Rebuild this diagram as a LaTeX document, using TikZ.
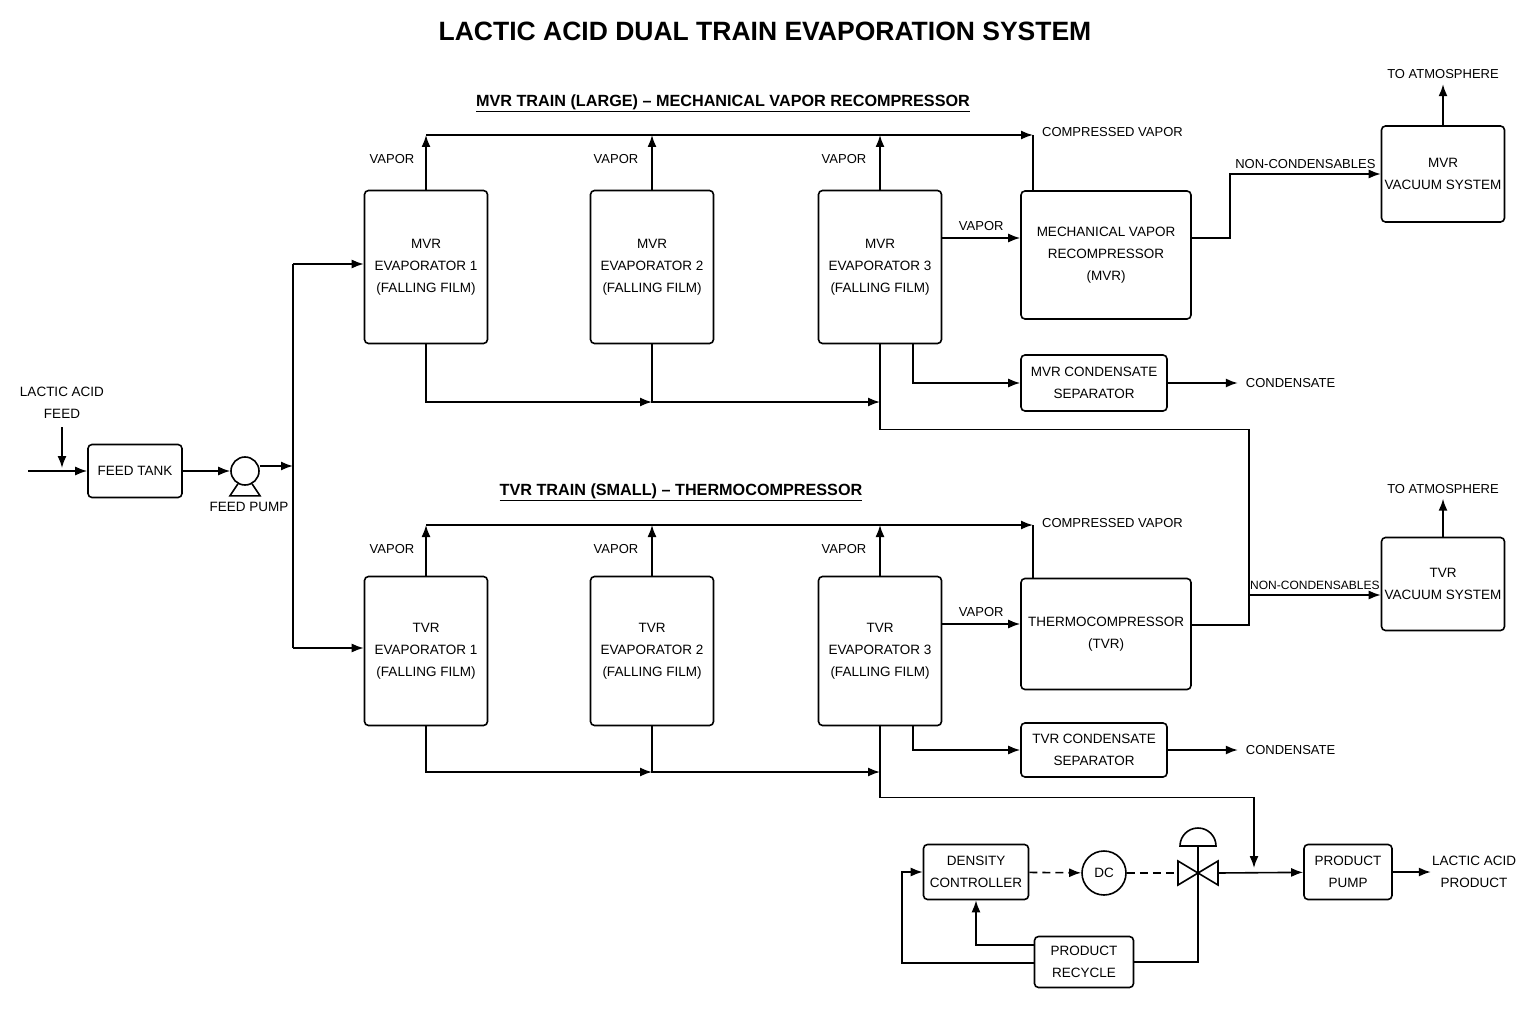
\documentclass[tikz,border=0pt]{standalone}
\usepackage{fontspec}
\setmainfont{Liberation Sans}
\usetikzlibrary{shapes, arrows.meta, positioning, calc}

\begin{document}
\begin{tikzpicture}[x=1pt, y=-1pt, >={Latex[length=12pt,width=9pt]}, line width=1.6pt,
	every node/.style={font=\fontsize{13.5}{22}\selectfont, align=center},
	unit/.style={draw, rounded corners=4pt, inner sep=0pt},
	evap/.style={unit, minimum width=123pt, minimum height=153pt},
	lbl/.style={font=\fontsize{13}{16}\selectfont},
	head/.style={font=\fontsize{16.2}{20}\selectfont\bfseries}]
	\useasboundingbox (0,0) rectangle (1536,1024);
	\node[font=\fontsize{26.5}{30}\selectfont\bfseries] (title) at (765,31) {LACTIC ACID DUAL TRAIN EVAPORATION SYSTEM};
	\node[head] (mvrhead) at (723,103) {\underline{MVR TRAIN (LARGE) -- MECHANICAL VAPOR RECOMPRESSOR}};
	\node[head] (tvrhead) at (681,492) {\underline{TVR TRAIN (SMALL) -- THERMOCOMPRESSOR}};
	% feed
	\node[unit, minimum width=94pt, minimum height=53pt] (feedtank) at (135,471) {FEED TANK};
	\coordinate (feedin) at (28,471);
	\node (feedlbl) at (62,403) {LACTIC ACID\\FEED};
	\node[draw, circle, minimum size=28pt, inner sep=0pt] (pump) at (245,471) {};
	\draw (pump.south) ++(-7,-2) -- ++(-8,12) -- ++(30,0) -- ++(-8,-12);
	\node (pumplbl) at (249,507) {FEED PUMP};
	\coordinate (split) at (293,466);
	\draw[->] (feedin) -- (feedtank);
	\draw[->] (feedlbl) ++(0,24) -- ++(0,41);
	\draw[->] (feedtank) -- (pump);
	\draw[->] (pump.east |- split) -- (split);
	% MVR train
	\node[evap] (mvr1) at (426,267) {MVR\\EVAPORATOR 1\\(FALLING FILM)};
	\node[evap] (mvr2) at (652,267) {MVR\\EVAPORATOR 2\\(FALLING FILM)};
	\node[evap] (mvr3) at (880,267) {MVR\\EVAPORATOR 3\\(FALLING FILM)};
	\node[unit, minimum width=170pt, minimum height=128pt] (mvrc) at (1106,255) {MECHANICAL VAPOR\\RECOMPRESSOR\\(MVR)};
	\node[unit, minimum width=123pt, minimum height=96pt] (mvrvac) at (1443,174) {MVR\\VACUUM SYSTEM};
	\node[unit, minimum width=146pt, minimum height=56pt] (mvrsep) at (1094,383) {MVR CONDENSATE\\SEPARATOR};
	% TVR train
	\node[evap, minimum height=149pt] (tvr1) at (426,651) {TVR\\EVAPORATOR 1\\(FALLING FILM)};
	\node[evap, minimum height=149pt] (tvr2) at (652,651) {TVR\\EVAPORATOR 2\\(FALLING FILM)};
	\node[evap, minimum height=149pt] (tvr3) at (880,651) {TVR\\EVAPORATOR 3\\(FALLING FILM)};
	\node[unit, minimum width=170pt, minimum height=111pt] (tvrc) at (1106,634) {THERMOCOMPRESSOR\\(TVR)};
	\node[unit, minimum width=123pt, minimum height=93pt] (tvrvac) at (1443,584) {TVR\\VACUUM SYSTEM};
	\node[unit, minimum width=146pt, minimum height=54pt] (tvrsep) at (1094,750) {TVR CONDENSATE\\SEPARATOR};
	% feed split
	\draw[->] (split |- {(0,264)}) -- (mvr1.west |- {(0,264)});
	\draw (split |- {(0,264)}) -- (split |- {(0,648)});
	\draw[->] (split |- {(0,648)}) -- (tvr1.west |- {(0,648)});
	% vapor headers
	\foreach \tr/\cmp/\y/\ty in {mvr/mvrc/135/132, tvr/tvrc/525/523} {
		\foreach \i/\lx in {1/392, 2/616, 3/844} {
			\draw[->] (\tr\i.north) -- (\tr\i.north |- {(0,\y)});
			\node[lbl] at (\lx,\y+24) {VAPOR};
		}
		\draw[->] (\tr1.north |- {(0,\y)}) -- (1033,\y);
		\draw (1033,\y) -- ({(1033,0)} |- \cmp.north);
		\node[lbl, anchor=west] at (1038,\ty) {COMPRESSED VAPOR};
	}
	\draw[->] (mvr3.east |- {(0,238)}) -- node[lbl, above=3pt] {VAPOR} (mvrc.west |- {(0,238)});
	\draw[->] (tvr3.east |- {(0,624)}) -- node[lbl, above=3pt] {VAPOR} (tvrc.west |- {(0,624)});
	% liquid lines
	\foreach \tr/\sep/\y in {mvr/mvrsep/402, tvr/tvrsep/772} {
		\draw[->] (\tr1.south) -- (\tr1.south |- {(0,\y)}) -- (\tr2.south |- {(0,\y)});
		\draw[->] (\tr2.south) -- (\tr2.south |- {(0,\y)}) -- (\tr3.south |- {(0,\y)});
		\draw (\tr3.south) -- (\tr3.south |- {(0,\y)});
		\draw[->] ([xshift=33pt]\tr3.south) |- (\sep);
		\draw[->] (\sep.east) -- ++(70,0) node[lbl, right=4pt] {CONDENSATE};
	}
	% non-condensables
	\draw[->] (mvrc.east |- {(0,238)}) -- (1230,238) |- node[lbl, pos=0.75, above=1pt] {NON-CONDENSABLES} (mvrvac);
	\draw[->] (mvrvac.north) -- ++(0,-41) node[lbl, above=1pt] {TO ATMOSPHERE};
	\draw (mvr3.south) -- ++(0,85) -| (1249,625) -- (tvrc.east |- {(0,625)});
	\draw[->] (1249,595) -- node[lbl, above=1pt, font=\fontsize{12}{14}\selectfont] {NON-CONDENSABLES} (tvrvac.west |- {(0,595)});
	\draw[->] (tvrvac.north) -- ++(0,-38) node[lbl, above=1pt] {TO ATMOSPHERE};
	% product
	\node[unit, minimum width=105pt, minimum height=55pt] (dens) at (976,872) {DENSITY\\CONTROLLER};
	\node[draw, circle, minimum size=44pt, inner sep=0pt] (dc) at (1104,873) {DC};
	\coordinate (valve) at (1198,873);
	\draw (valve) -- ++(-20,-12) -- ++(0,24) -- cycle;
	\draw (valve) -- ++(20,-12) -- ++(0,24) -- cycle;
	\draw (valve) -- ++(0,-27);
	\draw (1180,846) arc (180:360:18) -- cycle;
	\node[unit, minimum width=88pt, minimum height=55pt] (ppump) at (1348,872) {PRODUCT\\PUMP};
	\node[unit, minimum width=99pt, minimum height=51pt] (recycle) at (1084,962) {PRODUCT\\RECYCLE};
	\node (prodlbl) at (1474,872) {LACTIC ACID\\PRODUCT};
	\draw[->, dash pattern=on 8pt off 5pt] (dens) -- (dc);
	\draw[dash pattern=on 8pt off 5pt] (dc) -- ([xshift=-20pt]valve);
	\draw[->] ([xshift=20pt]valve) -- (ppump);
	\draw[->] (ppump.east) -- ++(38,0);
	\draw[->] (tvr3.south) -- ++(0,71) -| (1254,868);
	\draw[->] (recycle.west |- {(0,945)}) -| (dens.south);
	\draw[->] (recycle.west |- {(0,963)}) -- (902,963) |- (dens.west);
	\draw (recycle.east) -| (valve);
\end{tikzpicture}
\end{document}
